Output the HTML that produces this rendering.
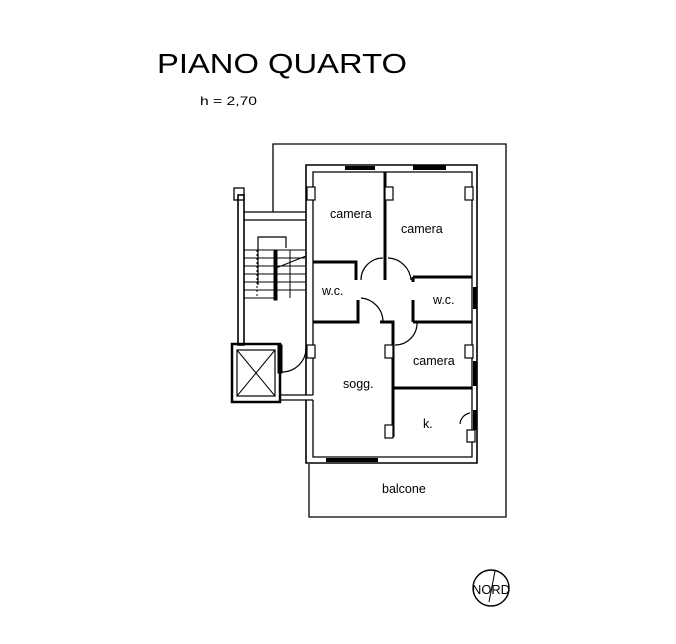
<!DOCTYPE html>
<html><head><style>html,body{margin:0;padding:0;background:#fff}svg{display:block}</style></head>
<body>
<svg width="676" height="644" viewBox="0 0 676 644" xmlns="http://www.w3.org/2000/svg" font-family="Liberation Sans, Arial, sans-serif">
<rect width="676" height="644" fill="#fff"/>
<text x="157" y="73" font-size="28" textLength="250" lengthAdjust="spacingAndGlyphs">PIANO QUARTO</text>
<text x="200" y="105" font-size="12" textLength="57" lengthAdjust="spacingAndGlyphs">h =  2,70</text>
<g fill="none" stroke="#000">
<!-- outer thin boundary -->
<polyline points="273,212 273,144 506,144 506,517 309,517 309,464" stroke-width="1.3"/>
<!-- building double walls -->
<polyline points="306,395 306,165 477,165 477,463 306,463 306,400" stroke-width="1.6"/>
<polyline points="313,395 313,172 472,172 472,457 313,457 313,400" stroke-width="1.3"/>
<line x1="306" y1="400" x2="313" y2="400" stroke-width="1.3"/>
<polyline points="306,400 280,400 280,395" stroke-width="1.3"/>
<polyline points="313,395 280,395" stroke-width="1.3"/>
<!-- stair -->
<rect x="238" y="195" width="6" height="150" stroke-width="1.6"/>
<rect x="234" y="188" width="10" height="12" stroke-width="1.3"/>
<line x1="244" y1="212" x2="306" y2="212" stroke-width="1.2"/>
<line x1="244" y1="220" x2="306" y2="220" stroke-width="1.2"/>
<polyline points="258,285 258,237 286,237 286,248" stroke-width="1.2"/>
<g stroke-width="1">
<line x1="244" y1="250" x2="305" y2="250"/><line x1="244" y1="258" x2="305" y2="258"/>
<line x1="244" y1="266" x2="305" y2="266"/><line x1="244" y1="274" x2="305" y2="274"/>
<line x1="244" y1="282" x2="305" y2="282"/><line x1="244" y1="290" x2="305" y2="290"/>
<line x1="244" y1="298" x2="275" y2="298"/>
<line x1="290" y1="250" x2="290" y2="298"/>
<line x1="276" y1="268" x2="306" y2="256"/>
<line x1="257" y1="250" x2="257" y2="298" stroke-dasharray="2,2"/>
</g>
<rect x="274" y="250" width="3" height="50" fill="#000" stroke-width="1"/>
<!-- elevator -->
<rect x="232" y="344" width="48" height="58" stroke-width="2.5"/>
<rect x="237" y="350" width="38" height="46" stroke-width="1.2"/>
<line x1="237" y1="350" x2="275" y2="396" stroke-width="1"/>
<line x1="275" y1="350" x2="237" y2="396" stroke-width="1"/>
<rect x="278" y="345" width="4" height="28" fill="#000"/>
<path d="M282,372 A24,24 0 0 0 306,348" stroke-width="1.2"/>
<!-- interior walls -->
<line x1="385" y1="172" x2="385" y2="280" stroke-width="3"/>
<polyline points="313,262 356,262 356,280" stroke-width="3"/>
<polyline points="313,322 358,322 358,300" stroke-width="3"/>
<line x1="413" y1="277" x2="472" y2="277" stroke-width="3"/>
<line x1="413" y1="322" x2="472" y2="322" stroke-width="3"/>
<line x1="413" y1="277" x2="413" y2="282" stroke-width="3"/>
<line x1="413" y1="300" x2="413" y2="322" stroke-width="3"/>
<polyline points="380,322 393,322 393,437" stroke-width="3"/>
<line x1="393" y1="388" x2="472" y2="388" stroke-width="3"/>
<!-- door arcs -->
<path d="M361,280 A22,22 0 0 1 383,258" stroke-width="1.2"/>
<path d="M388,258 A24,24 0 0 1 411,280" stroke-width="1.2"/>
<path d="M361,298 A24,24 0 0 1 383,322" stroke-width="1.2"/>
<path d="M395,345 A22,22 0 0 0 417,322" stroke-width="1.2"/>
<path d="M470,413 A12,12 0 0 0 460,424" stroke-width="1.2"/>
<!-- pillars -->
<g stroke-width="1.2" fill="#fff">
<rect x="307" y="187" width="8" height="13"/><rect x="385" y="187" width="8" height="13"/><rect x="465" y="187" width="8" height="13"/>
<rect x="307" y="345" width="8" height="13"/><rect x="385" y="345" width="8" height="13"/><rect x="465" y="345" width="8" height="13"/>
<rect x="385" y="425" width="8" height="13"/><rect x="467" y="430" width="8" height="12"/>
</g>
</g>
<!-- windows -->
<g fill="#000">
<rect x="345" y="166" width="30" height="4"/><rect x="413" y="165" width="33" height="5"/>
<rect x="326" y="458" width="52" height="4"/>
<rect x="473" y="287" width="4" height="22"/><rect x="473" y="361" width="4" height="25"/><rect x="473" y="410" width="4" height="20"/>
</g>
<g font-size="12.5">
<text x="330" y="218">camera</text>
<text x="401" y="233">camera</text>
<text x="322" y="295">w.c.</text>
<text x="433" y="304">w.c.</text>
<text x="413" y="365">camera</text>
<text x="343" y="388">sogg.</text>
<text x="423" y="428">k.</text>
<text x="382" y="493">balcone</text>
</g>
<circle cx="491" cy="588" r="18" fill="none" stroke="#000" stroke-width="1.4"/>
<line x1="495" y1="571" x2="489" y2="602" stroke="#000" stroke-width="1"/>
<text x="472" y="594" font-size="13" textLength="38" lengthAdjust="spacingAndGlyphs">NORD</text>
</svg>
</body></html>
